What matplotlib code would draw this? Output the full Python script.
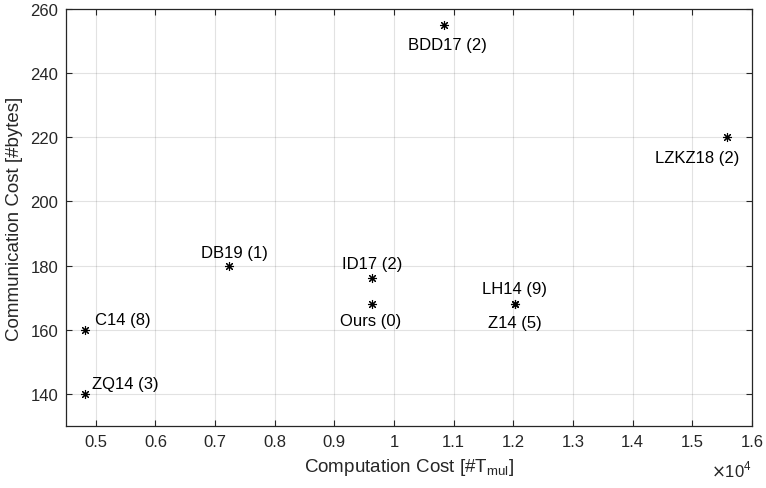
import matplotlib
matplotlib.use("Agg")
import matplotlib.pyplot as plt

plt.rcParams['font.family'] = ['Liberation Sans', 'DejaVu Sans']

# data: computation cost [#T_mul], communication cost [bytes]
names = ['BDD17 (2)', 'LZKZ18 (2)', 'DB19 (1)', 'ID17 (2)', 'Ours (0)',
         'LH14 (9)', 'Z14 (5)', 'C14 (8)', 'ZQ14 (3)']
comp = [10830, 15580, 7240, 9636, 9636, 12020, 12020, 4815, 4815]
comm = [255, 220, 180, 176, 168, 168, 168, 160, 140]

# label offsets in pixels (dx, dy up) and alignment
offsets = {
    'BDD17 (2)': (4, -19, 'center'),
    'LZKZ18 (2)': (-30, -20, 'center'),
    'DB19 (1)': (5, 13, 'center'),
    'ID17 (2)': (0, 15, 'center'),
    'Ours (0)': (-2, -16, 'center'),
    'LH14 (9)': (0, 16, 'center'),
    'Z14 (5)': (0, -18, 'center'),
    'C14 (8)': (10, 10, 'left'),
    'ZQ14 (3)': (7, 10, 'left'),
}

fig = plt.figure(figsize=(7.66, 4.89), dpi=100)
ax = fig.add_axes([66 / 766, 62 / 489, 686 / 766, 417 / 489])

ax.plot(comp, comm, linestyle='none', marker=(8, 2, 0), markersize=6.5,
        markeredgewidth=0.8, color='black', zorder=3)

for n, x, y in zip(names, comp, comm):
    dx, dy, ha = offsets[n]
    ax.annotate(n, (x, y), xytext=(dx * 0.72, dy * 0.72), textcoords='offset points',
                ha=ha, va='center', fontsize=12, color='black')

ax.set_xlim(4500, 16000)
ax.set_ylim(130, 260)
xt = [5000 + 1000 * i for i in range(12)]
ax.set_xticks(xt)
ax.set_xticklabels([f'{v / 1e4:g}' for v in xt])
ax.set_yticks(range(140, 261, 20))

ax.grid(True, color='#262626', alpha=0.13, linewidth=0.8)
ax.set_axisbelow(True)
for s in ax.spines.values():
    s.set_color('#262626')
    s.set_linewidth(0.9)
ax.tick_params(direction='in', length=4, width=0.8, color='#262626',
               labelsize=12, labelcolor='#262626', top=True, right=True, pad=5.5)

ax.set_xlabel('Computation Cost [#T$_{\\mathregular{mul}}$]', fontsize=13.5, color='#262626', labelpad=5)
ax.set_ylabel('Communication Cost [#bytes]', fontsize=13.5, color='#262626', labelpad=5)

ax.text(1.0, -0.078, '$\\times$10$^{\\mathregular{4}}$', transform=ax.transAxes,
        ha='right', va='top', fontsize=12, color='#262626')

fig.savefig('out.png', dpi=100)
